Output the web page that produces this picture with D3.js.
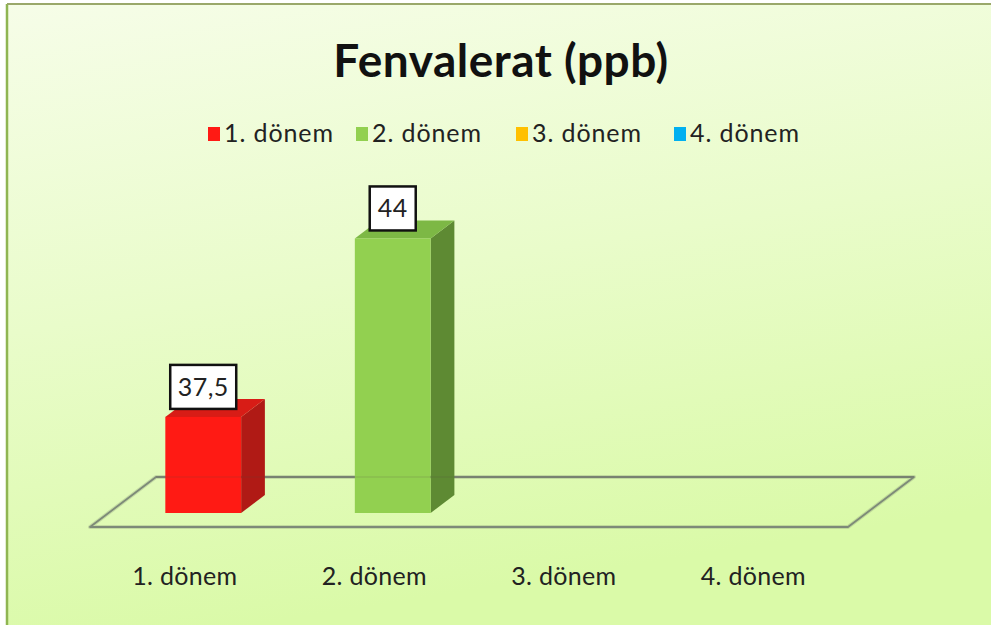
<!DOCTYPE html>
<html><head><meta charset="utf-8">
<script src="https://cdn.jsdelivr.net/npm/d3@7"></script>
<style>html,body{margin:0;padding:0;background:#fff;}svg{display:block;}</style>
</head><body>
<svg id="chart" width="991" height="625"></svg>
<script>
const title = "Fenvalerat (ppb)";
const categories = ["1. dönem", "2. dönem", "3. dönem", "4. dönem"];
const seriesNames = ["1. dönem", "2. dönem", "3. dönem", "4. dönem"];
const seriesColors = ["#ff1a14", "#92d050", "#ffc000", "#00b0f0"];
const sideColors = ["#b01a15", "#5e8a33", "#b38600", "#007bab"];
const topColors = ["#d81c16", "#7db845", "#e0a800", "#0099d0"];
const values = [37.5, 44, null, null];
const valueLabels = ["37,5", "44", "", ""];
const yDomain = [34, 45];

const svg = d3.select("#chart");
const W = 991, H = 625;

// background
const defs = svg.append("defs");
const grad = defs.append("linearGradient").attr("id","bg").attr("x1","0").attr("y1","0").attr("x2","0.25").attr("y2","1");
grad.append("stop").attr("offset","0").attr("stop-color","#f6fde8");
grad.append("stop").attr("offset","0.5").attr("stop-color","#e9fcca");
grad.append("stop").attr("offset","1").attr("stop-color","#dafaa8");
svg.append("rect").attr("x",0).attr("y",0).attr("width",W).attr("height",H).attr("fill","#ffffff");
svg.append("rect").attr("x",7).attr("y",4).attr("width",W-7).attr("height",H-4).attr("fill","url(#bg)");
svg.append("line").attr("x1",7).attr("x2",7).attr("y1",4).attr("y2",H).attr("stroke","#8fb552").attr("stroke-width",2.5);
svg.append("line").attr("x1",7).attr("x2",W).attr("y1",4).attr("y2",4).attr("stroke","#9aa86a").attr("stroke-width",2);

const font = "Lato, 'Open Sans', sans-serif";

// title
svg.append("text").attr("x",501).attr("y",77).attr("text-anchor","middle")
  .attr("font-family",font).attr("font-weight","bold").attr("font-size",46)
  .attr("letter-spacing",0.5)
  .attr("fill","#111").text(title);

// legend
const legendX = [208, 356, 516, 674];
const lg = svg.append("g");
seriesNames.forEach((s,i)=>{
  const g = lg.append("g").attr("transform",`translate(${legendX[i]},127)`);
  g.append("rect").attr("width",12).attr("height",14).attr("fill",seriesColors[i]);
  g.append("text").attr("x",16).attr("y",15).attr("font-family",font).attr("font-size",25)
    .attr("letter-spacing",0.9).attr("fill","#222").text(s);
});

// 3D geometry
const floorFrontY = 527, depthDX = 66, depthDY = -50;
const x = d3.scaleBand().domain(categories).range([90, 848]).paddingInner(0).paddingOuter(0);
const y = d3.scaleLinear().domain(yDomain).range([0, 302]);
const proj = (px, z) => [px + depthDX*z, floorFrontY + depthDY*z];

// floor
const x0 = x.range()[0], x1 = x.range()[1];
const floorPts = [proj(x0,0), proj(x1,0), proj(x1,1), proj(x0,1)];
svg.append("polygon").attr("points", floorPts.map(p=>p.join(",")).join(" "))
  .attr("fill","none").attr("stroke","#6e7a66").attr("stroke-width",4).attr("stroke-opacity",0.25).attr("stroke-linejoin","round");
svg.append("polygon").attr("points", floorPts.map(p=>p.join(",")).join(" "))
  .attr("fill","none").attr("stroke","#7d8a78").attr("stroke-width",1.8).attr("stroke-linejoin","round");

// bars
const barW = x.bandwidth()*0.4;
const zFront = 0.28, zBack = 0.64;
const barsG = svg.append("g");
categories.forEach((c,i)=>{
  const v = values[i];
  if (v == null) return;
  const cx = x(c) + x.bandwidth()/2;
  const h = y(v);
  const [fx, fy] = proj(cx - barW/2, zFront);
  const [bx, by] = proj(cx - barW/2, zBack);
  const ddx = bx - fx, ddy = by - fy;
  const g = barsG.append("g");
  // side
  g.append("polygon").attr("points", [
    [fx+barW, fy], [fx+barW+ddx, fy+ddy], [fx+barW+ddx, fy+ddy-h], [fx+barW, fy-h]
  ].map(p=>p.join(",")).join(" ")).attr("fill", sideColors[i]);
  // top
  g.append("polygon").attr("points", [
    [fx, fy-h], [fx+barW, fy-h], [fx+barW+ddx, fy+ddy-h], [fx+ddx, fy+ddy-h]
  ].map(p=>p.join(",")).join(" ")).attr("fill", topColors[i]);
  // front
  g.append("rect").attr("x", fx).attr("y", fy-h).attr("width", barW).attr("height", h).attr("fill", seriesColors[i]);
  // label
  const lbl = valueLabels[i];
  const bw = lbl.length > 2 ? 66 : 46, bh = 44;
  const lx = fx + barW/2;
  const lb = fy - h - 8;
  g.append("rect").attr("x", lx - bw/2).attr("y", lb - bh).attr("width", bw).attr("height", bh)
    .attr("fill","#fff").attr("stroke","#111").attr("stroke-width",2.5);
  g.append("text").attr("x", lx).attr("y", lb - bh/2 + 9).attr("text-anchor","middle")
    .attr("font-family",font).attr("font-size",25).attr("letter-spacing",0.5).attr("fill","#222").text(lbl);
});

// floor back line faintly visible across bars
svg.append("line").attr("x1", floorPts[3][0]).attr("y1", floorPts[3][1]).attr("x2", floorPts[2][0]).attr("y2", floorPts[2][1])
  .attr("stroke","#5a4a40").attr("stroke-width",1.5).attr("stroke-opacity",0.15);

// category axis
const axis = d3.axisBottom(x).tickSize(0).tickPadding(0);
const ax = svg.append("g").attr("transform",`translate(0,${floorFrontY+58})`).call(axis);
ax.select(".domain").remove();
ax.selectAll("text").attr("font-family",font).attr("font-size",25).attr("letter-spacing",0.3).attr("fill","#222").attr("dy","0");
</script>
</body></html>
